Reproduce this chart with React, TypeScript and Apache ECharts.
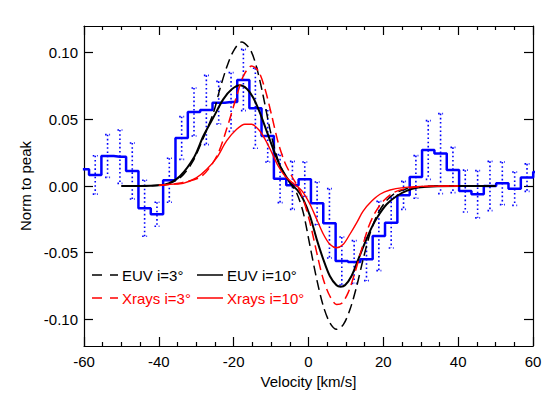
import React, { useEffect, useRef } from "react";
import * as echarts from "echarts";

// Histogram bin centers (km/s) and normalised values
const binCenters = [-60.3, -57.0, -53.7, -50.4, -47.1, -43.8, -40.5, -37.2, -33.9, -30.6, -27.3, -24.0, -20.7, -17.4, -14.2, -10.9, -7.6, -4.3, -1.0, 2.3, 5.6, 8.9, 12.2, 15.5, 18.8, 22.1, 25.4, 28.7, 32.0, 35.3, 38.6, 41.9, 45.2, 48.5, 51.8, 55.1, 58.4, 61.7];
const binValues = [0.0125, 0.0083, 0.0225, 0.022, 0.0113, -0.0167, -0.0212, 0.0043, 0.036, 0.0555, 0.057, 0.0625, 0.063, 0.0795, 0.0583, 0.0375, 0.0055, 0.0005, 0.005, -0.013, -0.028, -0.0563, -0.057, -0.055, -0.0375, -0.0275, -0.007, 0.0068, 0.027, 0.0243, 0.012, -0.0038, -0.0062, 0.0, 0.002, -0.002, 0.0063, 0.0105];
const binErrors = [0, 0.0144, 0.016, 0.02, 0.021, 0.021, 0.009, 0.0165, 0.016, 0.018, 0.026, 0.016, 0.022, 0.023, 0.03, 0.0195, 0.018, 0.018, 0.013, 0.016, 0.026, 0.018, 0.016, 0.016, 0.026, 0.019, 0.0105, 0.016, 0.022, 0.03, 0.017, 0.0157, 0.0177, 0.0185, 0.016, 0.0125, 0.0103, 0];

// Model curves [velocity, value]
const euv3 = [[-50, 0], [-45, 0], [-40, 0.0005], [-37, 0.002], [-34, 0.007], [-31, 0.018], [-28.1, 0.036], [-25.4, 0.055], [-23.7, 0.0725], [-21.9, 0.0888], [-20.1, 0.101], [-17.9, 0.108], [-15.6, 0.1025], [-13.85, 0.0888], [-12.1, 0.0675], [-10.3, 0.0425], [-8.5, 0.0225], [-6.7, 0.01], [-5.0, 0.0025], [-3.2, -0.005], [-1.4, -0.02], [0.4, -0.045], [2.2, -0.07], [3.95, -0.09], [5.7, -0.1025], [7.5, -0.1075], [9.3, -0.104], [11.1, -0.0925], [12.9, -0.075], [14.6, -0.055], [16.4, -0.036], [18.2, -0.0225], [20.4, -0.0125], [22.7, -0.0062], [25.8, -0.0025], [30, -0.0005], [40, 0], [50, 0]];
const euv10 = [[-50, 0], [-45, 0], [-40, 0.0005], [-37.4, 0.002], [-34.3, 0.0075], [-30.5, 0.022], [-28.1, 0.0375], [-25.4, 0.0515], [-22.8, 0.065], [-20.5, 0.0725], [-18.3, 0.0755], [-16.5, 0.073], [-14.8, 0.0663], [-13.0, 0.055], [-11.2, 0.0413], [-9.4, 0.0275], [-7.6, 0.015], [-5.8, 0.0063], [-4.5, 0.001], [-3.0, -0.003], [-1.4, -0.01], [0.4, -0.0225], [2.2, -0.04], [3.95, -0.055], [5.7, -0.0675], [7.5, -0.0745], [8.6, -0.0755], [9.75, -0.0745], [11.5, -0.0675], [13.3, -0.055], [15.1, -0.0425], [16.9, -0.031], [18.6, -0.0225], [20.9, -0.0137], [23.6, -0.0075], [26.2, -0.0037], [29.3, -0.0012], [33, -0.0003], [40, 0], [50, 0]];
const xrays3 = [[-40, 0.0005], [-33.8, 0.0025], [-28.5, 0.0075], [-24.5, 0.0225], [-21.9, 0.0425], [-19.2, 0.0675], [-17.4, 0.0825], [-15.2, 0.09], [-13.4, 0.0863], [-11.6, 0.0725], [-9.8, 0.0525], [-8.1, 0.0325], [-6.3, 0.0175], [-4.5, 0.0075], [-2.8, -0.001], [-1.4, -0.01], [0.4, -0.0275], [2.2, -0.05], [3.95, -0.07], [5.7, -0.0825], [7.5, -0.0888], [8.9, -0.088], [10.6, -0.08], [12.4, -0.065], [14.2, -0.0475], [16.0, -0.031], [17.8, -0.02], [20.0, -0.0113], [22.7, -0.005], [25.8, -0.002], [30, -0.0005], [40, 0]];
const xrays10 = [[-40, 0.0005], [-37, 0.0013], [-33.5, 0.002], [-29.9, 0.0063], [-27.2, 0.0125], [-24.5, 0.0213], [-21.9, 0.0338], [-19.2, 0.0425], [-17.0, 0.0463], [-15.2, 0.0463], [-13.4, 0.0425], [-11.6, 0.035], [-9.8, 0.025], [-8.1, 0.015], [-6.3, 0.0075], [-4.1, 0.002], [-2.5, -0.0015], [-1.4, -0.005], [0.4, -0.0137], [2.2, -0.025], [3.95, -0.036], [5.7, -0.0437], [7.5, -0.0463], [9.3, -0.0437], [11.1, -0.036], [12.9, -0.0275], [14.6, -0.0188], [16.9, -0.0113], [19.1, -0.0062], [21.8, -0.003], [25.3, -0.0012], [30, -0.0003], [40, 0]];

const yTicks = [-0.1, -0.05, 0, 0.05, 0.1];
const legendLabels = ["EUV i=3°", "EUV i=10°", "Xrays i=3°", "Xrays i=10°"];

const FONT = "'Liberation Sans', Arial, Helvetica, sans-serif";

export default function App() {
  const ref = useRef<HTMLDivElement>(null);
  useEffect(() => {
    if (!ref.current) return;
    const chart = echarts.init(ref.current, null, { renderer: "svg" });
    const histData = binCenters.map((c, i) => [c, binValues[i]]);
    const errData = binCenters
      .map((c, i) => [c, binValues[i], binErrors[i]])
      .filter((d) => d[2] > 0 && d[0] > -60 && d[0] < 60);

    const axisCommonX = {
      type: "value",
      min: -60,
      max: 60,
      interval: 20,
      splitLine: { show: false },
      axisLine: { show: true, onZero: false, lineStyle: { color: "#000", width: 1.2 } },
      axisTick: { show: true, inside: true, length: 9, lineStyle: { color: "#000", width: 1.2 } },
      minorTick: { show: true, splitNumber: 4, length: 4, lineStyle: { color: "#000", width: 1.2 } },
    };
    const axisCommonY = {
      type: "value",
      min: -0.12,
      max: 0.12,
      splitLine: { show: false },
      axisLine: { show: true, onZero: false, lineStyle: { color: "#000", width: 1.2 } },
      axisTick: { show: true, inside: true, length: 9, customValues: yTicks, lineStyle: { color: "#000", width: 1.2 } },
    };

    const legendGraphic: any[] = [];
    const rows = [
      { y: 275, color: "#000000", items: [{ x: 92, dash: [10, 8], label: legendLabels[0] }, { x: 197, dash: null, label: legendLabels[1] }] },
      { y: 298, color: "#ff0000", items: [{ x: 92, dash: [10, 8], label: legendLabels[2] }, { x: 197, dash: null, label: legendLabels[3] }] },
    ];
    rows.forEach((r) => {
      r.items.forEach((it) => {
        legendGraphic.push({
          type: "line",
          shape: { x1: it.x, y1: r.y, x2: it.x + 26, y2: r.y },
          style: { stroke: r.color, lineWidth: 1.5, lineDash: it.dash || undefined },
        });
        legendGraphic.push({
          type: "text",
          x: it.x + 30,
          y: r.y,
          style: { text: it.label, fill: r.color, font: `15px ${FONT}`, textVerticalAlign: "middle", verticalAlign: "middle" },
        });
      });
    });

    chart.setOption({
      animation: false,
      backgroundColor: "#ffffff",
      grid: { left: 84, right: 27, top: 26, bottom: 54, containLabel: false },
      xAxis: [
        {
          ...axisCommonX,
          position: "bottom",
          axisLabel: { show: true, color: "#000", fontSize: 15, fontFamily: FONT, margin: 8 },
          name: "Velocity [km/s]",
          nameLocation: "middle",
          nameGap: 25,
          nameTextStyle: { color: "#000", fontSize: 15, fontFamily: FONT },
        },
        { ...axisCommonX, position: "top", axisLabel: { show: false } },
      ],
      yAxis: [
        {
          ...axisCommonY,
          position: "left",
          axisLabel: {
            show: true,
            customValues: yTicks,
            color: "#000",
            fontSize: 15,
            fontFamily: FONT,
            margin: 6,
            formatter: (v: number) => (Math.abs(v) < 1e-9 ? "0.00" : v.toFixed(2)),
          },
          name: "Norm to peak",
          nameLocation: "middle",
          nameGap: 50,
          nameTextStyle: { color: "#000", fontSize: 15, fontFamily: FONT },
        },
        { ...axisCommonY, position: "right", axisLabel: { show: false } },
      ],
      graphic: legendGraphic,
      series: [
        {
          type: "line",
          name: "data",
          data: histData,
          step: "middle",
          symbol: "none",
          clip: true,
          lineStyle: { color: "#0000ff", width: 2.5 },
          z: 2,
        },
        {
          type: "custom",
          name: "errors",
          data: errData,
          clip: true,
          encode: { x: 0, y: 1 },
          z: 3,
          renderItem: (params: any, api: any) => {
            const x = api.value(0);
            const v = api.value(1);
            const e = api.value(2);
            const top = api.coord([x, v + e]);
            const bot = api.coord([x, v - e]);
            const st = { stroke: "#0000ff", lineWidth: 1.6, lineDash: [1.6, 2.6] };
            return {
              type: "group",
              children: [
                { type: "line", shape: { x1: top[0], y1: top[1], x2: bot[0], y2: bot[1] }, style: st },
                { type: "line", shape: { x1: top[0] - 2.5, y1: top[1], x2: top[0] + 2.5, y2: top[1] }, style: st },
                { type: "line", shape: { x1: bot[0] - 2.5, y1: bot[1], x2: bot[0] + 2.5, y2: bot[1] }, style: st },
              ],
            };
          },
        },
        {
          type: "line",
          name: legendLabels[0],
          data: euv3,
          smooth: 0.3,
          symbol: "none",
          lineStyle: { color: "#000000", width: 1.5, type: [10, 5] },
          z: 4,
        },
        {
          type: "line",
          name: legendLabels[1],
          data: euv10,
          smooth: 0.3,
          symbol: "none",
          lineStyle: { color: "#000000", width: 2 },
          z: 4,
        },
        {
          type: "line",
          name: legendLabels[2],
          data: xrays3,
          smooth: 0.3,
          symbol: "none",
          lineStyle: { color: "#ff0000", width: 1.5, type: [10, 5] },
          z: 5,
        },
        {
          type: "line",
          name: legendLabels[3],
          data: xrays10,
          smooth: 0.3,
          symbol: "none",
          lineStyle: { color: "#ff0000", width: 1.4 },
          z: 5,
        },
      ],
    });
    return () => chart.dispose();
  }, []);

  return (
    <div
      ref={ref}
      style={{ position: "fixed", left: 0, top: 0, width: 560, height: 400, background: "#fff" }}
    />
  );
}
